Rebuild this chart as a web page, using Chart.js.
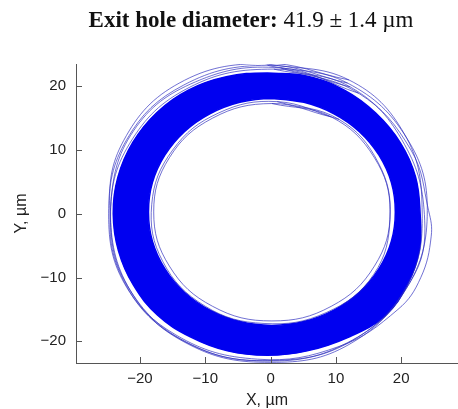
<!DOCTYPE html>
<html>
<head>
<meta charset="utf-8">
<script src="https://cdn.jsdelivr.net/npm/chart.js@4"></script>
<style>
  body { margin: 0; background: #fff; overflow: hidden; }
  #wrap { position: relative; width: 458px; height: 409px; }
  #title {
    position: absolute; left: 51px; width: 400px; top: 8px;
    text-align: center; font-family: "Liberation Serif", "Times New Roman", serif;
    font-size: 23px; line-height: 23px; color: #111; white-space: nowrap;
  }
</style>
</head>
<body>
<div id="wrap">
  <div id="title"><b>Exit hole diameter:</b> 41.9 ± 1.4 µm</div>
  <canvas id="chart" width="458" height="409"></canvas>
</div>
<script>
// traced positions (µm)
const bandOuter = [
  [-0.6, 22.1], [5.6, 21.6], [11.3, 19.4], [16.1, 15.8], [19.9, 11.1], [22.2, 5.8],
  [22.9, 0], [22.8, -5.6], [21.0, -11.0], [17.5, -16.0], [11.8, -19.4], [5.6, -21.5],
  [-0.5, -22.2], [-6.6, -21.5], [-12.3, -19.3], [-17.3, -15.9], [-21.0, -11.2], [-23.3, -5.8],
  [-24.1, 0], [-23.4, 5.7], [-21.1, 11.2], [-17.4, 15.9], [-12.6, 19.4], [-6.8, 21.5]
];
const bandInner = [
  [0.2, 18.1], [5.1, 17.5], [9.7, 15.7], [13.6, 12.9], [16.6, 9.2], [18.5, 4.9],
  [19.1, 0.3], [18.5, -4.3], [16.6, -8.6], [13.6, -12.3], [9.7, -15.1], [5.1, -16.9],
  [0.2, -17.5], [-4.7, -16.9], [-9.3, -15.1], [-13.2, -12.3], [-16.2, -8.6], [-18.1, -4.3],
  [-18.7, 0.3], [-18.1, 4.9], [-16.2, 9.2], [-13.2, 12.9], [-9.3, 15.7], [-4.7, 17.5]
];
const traceA = [
  [-0.5, 23.3], [11.8, 20.5], [20.9, 11.8], [24.0, 0.5], [20.8, -11.7], [11.8, -20.2],
  [-0.4, -23.1], [-13.0, -20.1], [-22.0, -11.6], [-24.8, 0], [-22.0, 11.7], [-13.3, 20.2]
];
const traceB = [
  [1.5, 22.9], [13.5, 18.9], [21.5, 10.0], [24.2, 0.5], [24.6, -3.5], [23.0, -10.0],
  [19.5, -15.0], [10.5, -20.8], [-2.0, -22.8], [-14.5, -19.0], [-22.5, -10.5], [-24.5, 1.0],
  [-21.0, 13.0], [-11.5, 20.7]
];
const traceC = [
  [0.2, 17.3], [9.3, 15.2], [15.9, 8.8], [18.3, 0.3], [15.9, -8.2], [9.3, -14.5],
  [0.2, -16.8], [-8.9, -14.5], [-15.5, -8.2], [-17.9, 0.3], [-15.5, 8.8], [-8.9, 15.0]
];
const traceD = [
  [0.5, 22.7], [12.2, 19.9], [20.5, 10.9], [23.6, -1.0], [21.5, -10.5], [12.5, -19.9],
  [0.5, -23.0], [-12.0, -20.6], [-21.5, -12.0], [-24.5, -0.5], [-21.6, 11.0], [-12.5, 19.8]
];
const traceE = [
  [1.0, 17.6], [10.5, 14.8], [16.5, 8.0], [18.3, -0.5], [15.8, -9.5], [8.5, -15.5],
  [-1.0, -17.2], [-10.0, -14.5], [-16.5, -7.5], [-18.2, 1.5], [-15.0, 10.0], [-8.0, 15.8]
];
const traceF = [
  [-1.0, 23.6], [12.0, 21.0], [20.5, 12.5], [23.2, 1.0], [21.0, -11.0], [12.0, -20.5],
  [0.0, -23.3], [-12.5, -20.5], [-21.5, -12.0], [-24.6, 0.5], [-22.5, 11.5], [-14.0, 20.5]
];
const xTicks = [-20, -10, 0, 10, 20];
const yTicks = [-20, -10, 0, 10, 20];

const closeLoop = (pts) => pts.concat([pts[0], pts[1]]).map(([x, y]) => ({ x, y }));

const thin = (pts) => ({
  data: closeLoop(pts),
  showLine: true,
  borderColor: "rgba(45,45,190,0.85)",
  borderWidth: 0.8,
  pointRadius: 0,
  tension: 0.4,
  fill: false,
  order: 1,
});

const minus = (v) => String(v).replace("-", "\u2212");

// ticks drawn inward like the original figure
const inwardTicks = {
  id: "inwardTicks",
  afterDraw(chart) {
    const { ctx, chartArea, scales } = chart;
    ctx.save();
    ctx.strokeStyle = "#555";
    ctx.lineWidth = 1;
    ctx.beginPath();
    xTicks.forEach((v) => {
      const px = Math.round(scales.x.getPixelForValue(v)) + 0.5;
      ctx.moveTo(px, chartArea.bottom);
      ctx.lineTo(px, chartArea.bottom - 6);
    });
    yTicks.forEach((v) => {
      const py = Math.round(scales.y.getPixelForValue(v)) + 0.5;
      ctx.moveTo(chartArea.left, py);
      ctx.lineTo(chartArea.left + 6, py);
    });
    ctx.stroke();
    ctx.restore();
  },
};

new Chart(document.getElementById("chart"), {
  type: "scatter",
  data: {
    datasets: [
      thin(traceA), thin(traceB), thin(traceC), thin(traceD), thin(traceE), thin(traceF),
      {
        data: closeLoop(bandInner),
        showLine: true,
        borderColor: "#0000f0",
        borderWidth: 1.5,
        backgroundColor: "#ffffff",
        fill: "shape",
        pointRadius: 0,
        tension: 0.4,
        order: 2,
      },
      {
        data: closeLoop(bandOuter),
        showLine: true,
        borderColor: "#0000f0",
        borderWidth: 1.5,
        backgroundColor: "#0000f0",
        fill: "shape",
        pointRadius: 0,
        tension: 0.4,
        order: 3,
      },
    ],
  },
  options: {
    responsive: false,
    animation: false,
    layout: { padding: { top: 64, right: 0, left: 0, bottom: 0 } },
    plugins: { legend: { display: false }, tooltip: { enabled: false } },
    scales: {
      x: {
        type: "linear",
        min: -29.8,
        max: 28.7,
        afterFit: (s) => { s.height = 46; },
        afterBuildTicks: (s) => { s.ticks = xTicks.map((v) => ({ value: v })); },
        grid: { display: false, drawTicks: false },
        border: { display: true, color: "#555", width: 1 },
        ticks: {
          padding: 7,
          color: "#222",
          font: { family: "'Liberation Sans', Arial, sans-serif", size: 15 },
          callback: (v) => minus(v),
        },
        title: {
          display: true,
          text: "X, µm",
          color: "#222",
          padding: 0,
          font: { family: "'Liberation Sans', Arial, sans-serif", size: 16, lineHeight: 1 },
        },
      },
      y: {
        type: "linear",
        min: -23.4,
        max: 23.5,
        afterFit: (s) => { s.width = 76; },
        afterBuildTicks: (s) => { s.ticks = yTicks.map((v) => ({ value: v })); },
        grid: { display: false, drawTicks: false },
        border: { display: true, color: "#555", width: 1 },
        ticks: {
          padding: 10,
          color: "#222",
          font: { family: "'Liberation Sans', Arial, sans-serif", size: 15 },
          callback: (v) => minus(v),
        },
        title: {
          display: true,
          text: "Y, µm",
          color: "#222",
          padding: { top: 14, bottom: 0 },
          font: { family: "'Liberation Sans', Arial, sans-serif", size: 16, lineHeight: 1 },
        },
      },
    },
  },
  plugins: [inwardTicks],
});
</script>
</body>
</html>
